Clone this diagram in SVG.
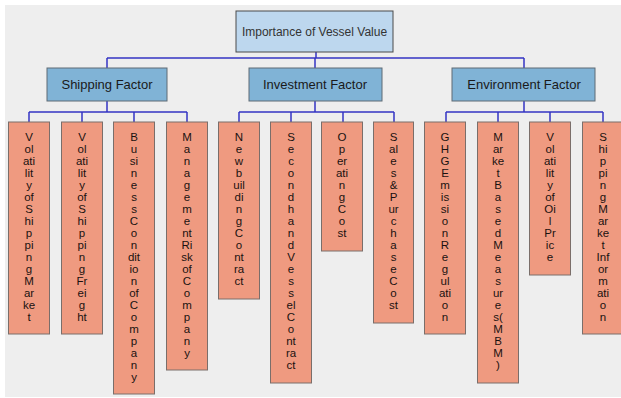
<svg xmlns="http://www.w3.org/2000/svg" width="621" height="398" viewBox="0 0 621 398">
<style>
.root{fill:#bdd7ee;stroke:#4a4a4a;stroke-width:1}
.fac{fill:#80b3d6;stroke:#5f6b74;stroke-width:1}
.leaf{fill:#ef9a80;stroke:#7a6e6a;stroke-width:1}
.t1{font-family:"Liberation Sans",Arial,sans-serif;font-size:12px;fill:#333;text-anchor:middle}
.t2{font-family:"Liberation Sans",Arial,sans-serif;font-size:13px;fill:#1a1a1a;text-anchor:middle}
.lt{font-family:"Liberation Sans",Arial,sans-serif;font-size:11.5px;fill:#1a1210;text-anchor:middle}
.con{stroke:#3434c4;stroke-width:1.5;fill:none}
</style>
<rect x="5" y="5" width="616" height="392" fill="#eeeeee"/>
<g id="connectors">
<path class="con" d="M316 52V58M107 58H524M107 58V68M315 58V68M524 58V68"/>
<path class="con" d="M107 101V112M29 112H187M29 112V122M82 112V122M134 112V122M187 112V122"/>
<path class="con" d="M315 101V112M239 112H394M239 112V122M291 112V122M343 112V122M394 112V122"/>
<path class="con" d="M524 101V112M446 112H603M446 112V122M498 112V122M550 112V122M603 112V122"/>
</g>
<g id="root"><rect class="root" x="236" y="11" width="157" height="41"/><text class="t1" x="314.5" y="36">Importance of Vessel Value</text></g>
<g id="shipping"><rect class="fac" x="47" y="68" width="120" height="33"/><text class="t2" x="107" y="89">Shipping Factor</text></g>
<g id="investment"><rect class="fac" x="249" y="68" width="133" height="33"/><text class="t2" x="315" y="89">Investment Factor</text></g>
<g id="environment"><rect class="fac" x="452" y="68" width="143" height="33"/><text class="t2" x="524" y="89">Environment Factor</text></g>
<g id="leaf1"><rect class="leaf" x="8.5" y="122" width="41" height="212"/><text class="lt" y="141"><tspan x="29">V</tspan><tspan x="29" dy="12">ol</tspan><tspan x="29" dy="12">ati</tspan><tspan x="29" dy="12">lit</tspan><tspan x="29" dy="12">y</tspan><tspan x="29" dy="12">of</tspan><tspan x="29" dy="12">S</tspan><tspan x="29" dy="12">hi</tspan><tspan x="29" dy="12">p</tspan><tspan x="29" dy="12">pi</tspan><tspan x="29" dy="12">n</tspan><tspan x="29" dy="12">g</tspan><tspan x="29" dy="12">M</tspan><tspan x="29" dy="12">ar</tspan><tspan x="29" dy="12">ke</tspan><tspan x="29" dy="12">t</tspan></text></g>
<g id="leaf2"><rect class="leaf" x="61.5" y="122" width="41" height="212"/><text class="lt" y="141"><tspan x="82">V</tspan><tspan x="82" dy="12">ol</tspan><tspan x="82" dy="12">ati</tspan><tspan x="82" dy="12">lit</tspan><tspan x="82" dy="12">y</tspan><tspan x="82" dy="12">of</tspan><tspan x="82" dy="12">S</tspan><tspan x="82" dy="12">hi</tspan><tspan x="82" dy="12">p</tspan><tspan x="82" dy="12">pi</tspan><tspan x="82" dy="12">n</tspan><tspan x="82" dy="12">g</tspan><tspan x="82" dy="12">Fr</tspan><tspan x="82" dy="12">ei</tspan><tspan x="82" dy="12">g</tspan><tspan x="82" dy="12">ht</tspan></text></g>
<g id="leaf3"><rect class="leaf" x="113.5" y="122" width="41" height="272"/><text class="lt" y="141"><tspan x="134">B</tspan><tspan x="134" dy="12">u</tspan><tspan x="134" dy="12">si</tspan><tspan x="134" dy="12">n</tspan><tspan x="134" dy="12">e</tspan><tspan x="134" dy="12">s</tspan><tspan x="134" dy="12">s</tspan><tspan x="134" dy="12">C</tspan><tspan x="134" dy="12">o</tspan><tspan x="134" dy="12">n</tspan><tspan x="134" dy="12">dit</tspan><tspan x="134" dy="12">io</tspan><tspan x="134" dy="12">n</tspan><tspan x="134" dy="12">of</tspan><tspan x="134" dy="12">C</tspan><tspan x="134" dy="12">o</tspan><tspan x="134" dy="12">m</tspan><tspan x="134" dy="12">p</tspan><tspan x="134" dy="12">a</tspan><tspan x="134" dy="12">n</tspan><tspan x="134" dy="12">y</tspan></text></g>
<g id="leaf4"><rect class="leaf" x="166.5" y="122" width="41" height="248"/><text class="lt" y="141"><tspan x="187">M</tspan><tspan x="187" dy="12">a</tspan><tspan x="187" dy="12">n</tspan><tspan x="187" dy="12">a</tspan><tspan x="187" dy="12">g</tspan><tspan x="187" dy="12">e</tspan><tspan x="187" dy="12">m</tspan><tspan x="187" dy="12">e</tspan><tspan x="187" dy="12">nt</tspan><tspan x="187" dy="12">Ri</tspan><tspan x="187" dy="12">sk</tspan><tspan x="187" dy="12">of</tspan><tspan x="187" dy="12">C</tspan><tspan x="187" dy="12">o</tspan><tspan x="187" dy="12">m</tspan><tspan x="187" dy="12">p</tspan><tspan x="187" dy="12">a</tspan><tspan x="187" dy="12">n</tspan><tspan x="187" dy="12">y</tspan></text></g>
<g id="leaf5"><rect class="leaf" x="218.5" y="122" width="41" height="177"/><text class="lt" y="141"><tspan x="239">N</tspan><tspan x="239" dy="12">e</tspan><tspan x="239" dy="12">w</tspan><tspan x="239" dy="12">b</tspan><tspan x="239" dy="12">uil</tspan><tspan x="239" dy="12">di</tspan><tspan x="239" dy="12">n</tspan><tspan x="239" dy="12">g</tspan><tspan x="239" dy="12">C</tspan><tspan x="239" dy="12">o</tspan><tspan x="239" dy="12">nt</tspan><tspan x="239" dy="12">ra</tspan><tspan x="239" dy="12">ct</tspan></text></g>
<g id="leaf6"><rect class="leaf" x="270.5" y="122" width="41" height="261"/><text class="lt" y="141"><tspan x="291">S</tspan><tspan x="291" dy="12">e</tspan><tspan x="291" dy="12">c</tspan><tspan x="291" dy="12">o</tspan><tspan x="291" dy="12">n</tspan><tspan x="291" dy="12">d</tspan><tspan x="291" dy="12">h</tspan><tspan x="291" dy="12">a</tspan><tspan x="291" dy="12">n</tspan><tspan x="291" dy="12">d</tspan><tspan x="291" dy="12">V</tspan><tspan x="291" dy="12">e</tspan><tspan x="291" dy="12">s</tspan><tspan x="291" dy="12">s</tspan><tspan x="291" dy="12">el</tspan><tspan x="291" dy="12">C</tspan><tspan x="291" dy="12">o</tspan><tspan x="291" dy="12">nt</tspan><tspan x="291" dy="12">ra</tspan><tspan x="291" dy="12">ct</tspan></text></g>
<g id="leaf7"><rect class="leaf" x="321.5" y="122" width="41" height="129"/><text class="lt" y="141"><tspan x="342">O</tspan><tspan x="342" dy="12">p</tspan><tspan x="342" dy="12">er</tspan><tspan x="342" dy="12">ati</tspan><tspan x="342" dy="12">n</tspan><tspan x="342" dy="12">g</tspan><tspan x="342" dy="12">C</tspan><tspan x="342" dy="12">o</tspan><tspan x="342" dy="12">st</tspan></text></g>
<g id="leaf8"><rect class="leaf" x="373.5" y="122" width="40" height="201"/><text class="lt" y="141"><tspan x="393.5">S</tspan><tspan x="393.5" dy="12">al</tspan><tspan x="393.5" dy="12">e</tspan><tspan x="393.5" dy="12">s</tspan><tspan x="393.5" dy="12">&amp;</tspan><tspan x="393.5" dy="12">P</tspan><tspan x="393.5" dy="12">ur</tspan><tspan x="393.5" dy="12">c</tspan><tspan x="393.5" dy="12">h</tspan><tspan x="393.5" dy="12">a</tspan><tspan x="393.5" dy="12">s</tspan><tspan x="393.5" dy="12">e</tspan><tspan x="393.5" dy="12">C</tspan><tspan x="393.5" dy="12">o</tspan><tspan x="393.5" dy="12">st</tspan></text></g>
<g id="leaf9"><rect class="leaf" x="424.5" y="122" width="41" height="212"/><text class="lt" y="141"><tspan x="445">G</tspan><tspan x="445" dy="12">H</tspan><tspan x="445" dy="12">G</tspan><tspan x="445" dy="12">E</tspan><tspan x="445" dy="12">m</tspan><tspan x="445" dy="12">is</tspan><tspan x="445" dy="12">si</tspan><tspan x="445" dy="12">o</tspan><tspan x="445" dy="12">n</tspan><tspan x="445" dy="12">R</tspan><tspan x="445" dy="12">e</tspan><tspan x="445" dy="12">g</tspan><tspan x="445" dy="12">ul</tspan><tspan x="445" dy="12">ati</tspan><tspan x="445" dy="12">o</tspan><tspan x="445" dy="12">n</tspan></text></g>
<g id="leaf10"><rect class="leaf" x="477.5" y="122" width="41" height="261"/><text class="lt" y="141"><tspan x="498">M</tspan><tspan x="498" dy="12">ar</tspan><tspan x="498" dy="12">ke</tspan><tspan x="498" dy="12">t</tspan><tspan x="498" dy="12">B</tspan><tspan x="498" dy="12">a</tspan><tspan x="498" dy="12">s</tspan><tspan x="498" dy="12">e</tspan><tspan x="498" dy="12">d</tspan><tspan x="498" dy="12">M</tspan><tspan x="498" dy="12">e</tspan><tspan x="498" dy="12">a</tspan><tspan x="498" dy="12">s</tspan><tspan x="498" dy="12">ur</tspan><tspan x="498" dy="12">e</tspan><tspan x="498" dy="12">s(</tspan><tspan x="498" dy="12">M</tspan><tspan x="498" dy="12">B</tspan><tspan x="498" dy="12">M</tspan><tspan x="498" dy="12">)</tspan></text></g>
<g id="leaf11"><rect class="leaf" x="529.5" y="122" width="41" height="153"/><text class="lt" y="141"><tspan x="550">V</tspan><tspan x="550" dy="12">ol</tspan><tspan x="550" dy="12">ati</tspan><tspan x="550" dy="12">lit</tspan><tspan x="550" dy="12">y</tspan><tspan x="550" dy="12">of</tspan><tspan x="550" dy="12">Oi</tspan><tspan x="550" dy="12">l</tspan><tspan x="550" dy="12">Pr</tspan><tspan x="550" dy="12">ic</tspan><tspan x="550" dy="12">e</tspan></text></g>
<g id="leaf12"><rect class="leaf" x="582.5" y="122" width="41" height="212"/><text class="lt" y="141"><tspan x="603">S</tspan><tspan x="603" dy="12">hi</tspan><tspan x="603" dy="12">p</tspan><tspan x="603" dy="12">pi</tspan><tspan x="603" dy="12">n</tspan><tspan x="603" dy="12">g</tspan><tspan x="603" dy="12">M</tspan><tspan x="603" dy="12">ar</tspan><tspan x="603" dy="12">ke</tspan><tspan x="603" dy="12">t</tspan><tspan x="603" dy="12">Inf</tspan><tspan x="603" dy="12">or</tspan><tspan x="603" dy="12">m</tspan><tspan x="603" dy="12">ati</tspan><tspan x="603" dy="12">o</tspan><tspan x="603" dy="12">n</tspan></text></g>
</svg>
